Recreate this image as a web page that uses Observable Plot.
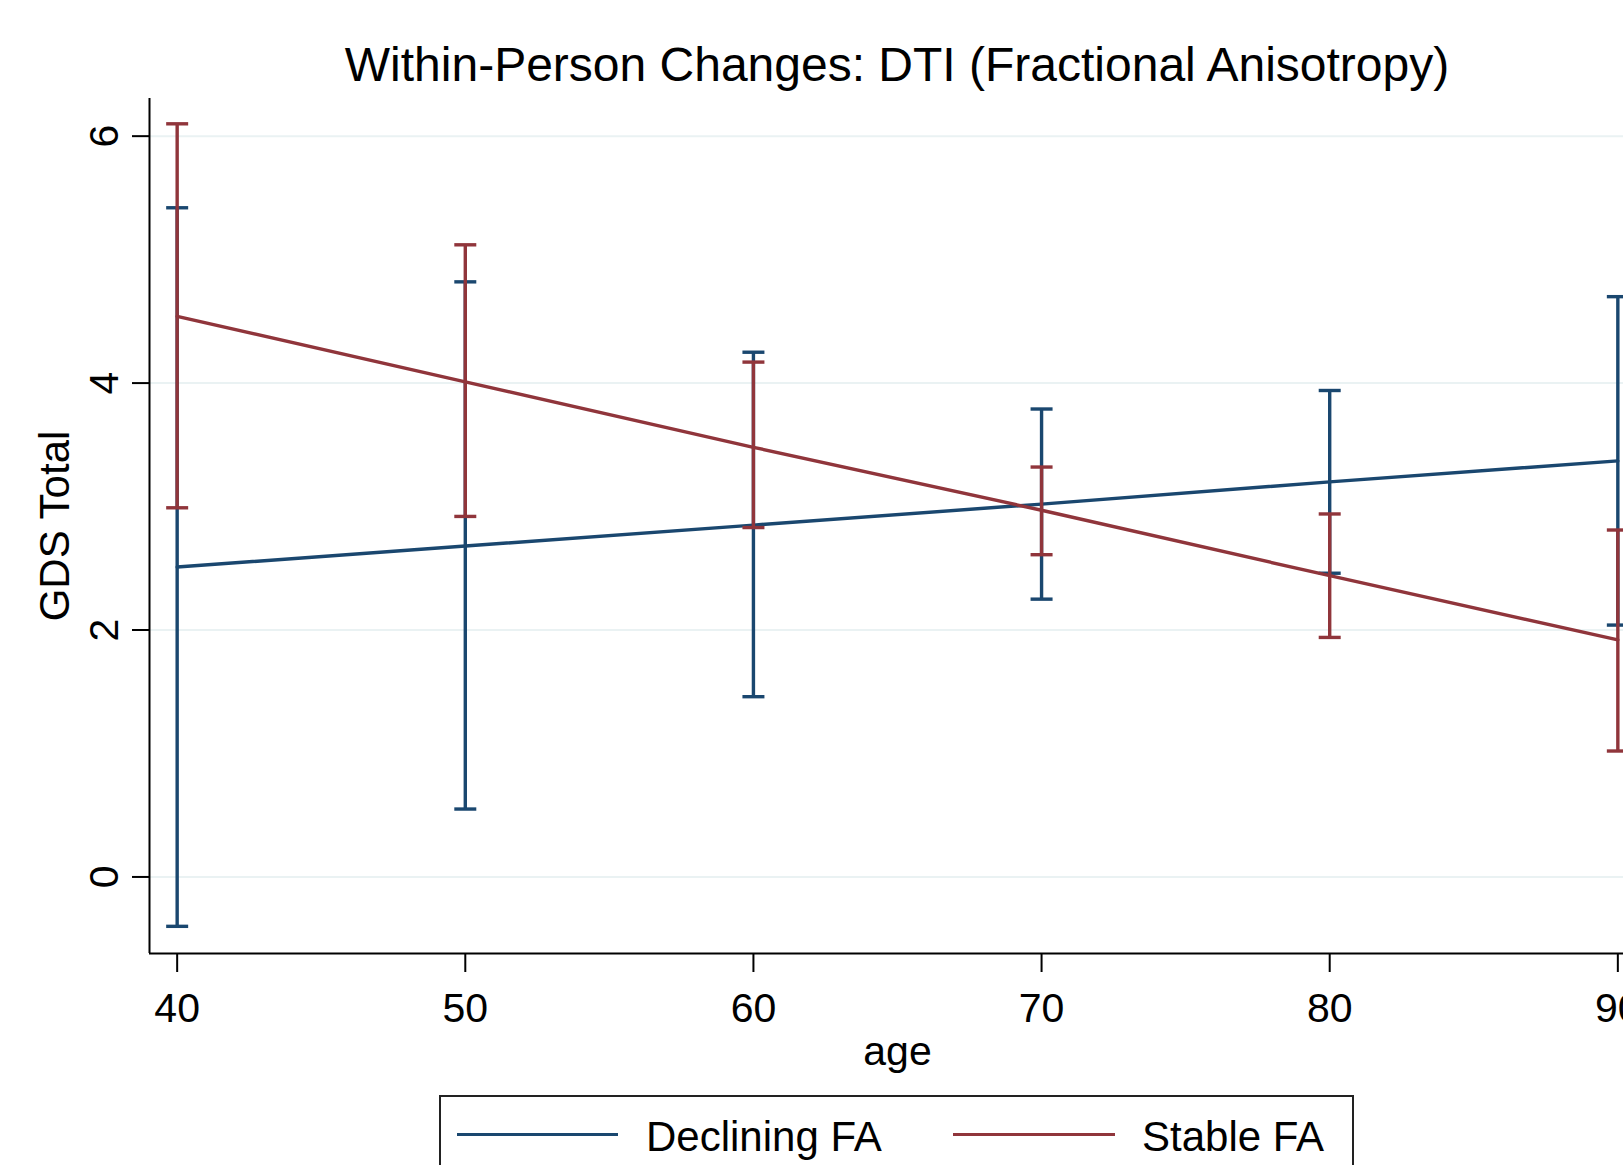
<!DOCTYPE html>
<html>
<head>
<meta charset="utf-8">
<script src="https://cdn.jsdelivr.net/npm/d3@7"></script>
<script src="https://cdn.jsdelivr.net/npm/@observablehq/plot@0.6"></script>
<style>
  html, body { margin: 0; padding: 0; background: #fff; }
  body { width: 1623px; height: 1165px; overflow: hidden; font-family: "Liberation Sans", Arial, sans-serif; color: #000; }
  #title { width: 1794px; height: 90px; box-sizing: border-box; padding-top: 41px; line-height: 48px; font-size: 48px; text-align: center; white-space: nowrap; }
  #chart { width: 1700px; height: 995px; }
  #chart svg { display: block; overflow: visible; max-width: none !important; }
  #legend { position: relative; margin-left: 439px; margin-top: 10px; width: 911px; height: 140px; border: 2px solid #222; }
  #legend .swatch { position: absolute; top: 35.5px; height: 3.4px; }
  #legend .label { position: absolute; top: 19px; font-size: 42px; line-height: 42px; white-space: nowrap; }
</style>
</head>
<body>
<div id="title">Within-Person Changes: DTI (Fractional Anisotropy)</div>
<div id="chart"></div>
<div id="legend"></div>
<script>
// Predicted GDS Total by age with 95% confidence intervals, two FA groups
const ages = [40, 50, 60, 70, 80, 90];

const seriesNames = ["Declining FA", "Stable FA"];
const seriesColors = ["#1a476f", "#90353b"];

const decliningFit = [2.51, 2.68, 2.85, 3.02, 3.20, 3.37];
const decliningLow = [-0.40, 0.55, 1.46, 2.25, 2.46, 2.04];
const decliningHigh = [5.42, 4.82, 4.25, 3.79, 3.94, 4.70];

const stableFit = [4.54, 4.01, 3.48, 2.97, 2.44, 1.92];
const stableLow = [2.99, 2.92, 2.83, 2.61, 1.94, 1.02];
const stableHigh = [6.10, 5.12, 4.17, 3.32, 2.94, 2.81];

const xTicks = [40, 50, 60, 70, 80, 90];
const yTicks = [0, 2, 4, 6];
const xDomain = [39.04, 90.96];
const yDomain = [-0.62, 6.305];

const rowsFor = (fit, lo, hi, name) =>
  ages.map((age, i) => ({age, fit: fit[i], lo: lo[i], hi: hi[i], group: name}));

const declining = rowsFor(decliningFit, decliningLow, decliningHigh, seriesNames[0]);
const stable = rowsFor(stableFit, stableLow, stableHigh, seriesNames[1]);

// Horizontal cap drawn as a dot symbol; half-width equals the dot radius
const capSymbol = {
  draw(context, size) {
    const w = Math.sqrt(size / Math.PI);
    context.moveTo(-w, 0);
    context.lineTo(w, 0);
  }
};

const lineWidth = 3.4;
const seriesMarks = (rows, color) => [
  Plot.line(rows, {x: "age", y: "fit", stroke: color, strokeWidth: lineWidth}),
  Plot.ruleX(rows, {x: "age", y1: "lo", y2: "hi", stroke: color, strokeWidth: lineWidth}),
  Plot.dot(rows, {x: "age", y: "lo", symbol: capSymbol, r: 11, stroke: color, strokeWidth: lineWidth, fill: "none"}),
  Plot.dot(rows, {x: "age", y: "hi", symbol: capSymbol, r: 11, stroke: color, strokeWidth: lineWidth, fill: "none"})
];

const chart = Plot.plot({
  width: 1700,
  height: 995,
  marginTop: 8,
  marginBottom: 132,
  marginLeft: 149,
  marginRight: 55,
  style: {fontFamily: "'Liberation Sans', Arial, sans-serif", fontSize: "41px", color: "#000", background: "transparent", maxWidth: "none"},
  x: {domain: xDomain},
  y: {domain: yDomain},
  marks: [
    Plot.gridY(yTicks, {stroke: "#eaf2f3", strokeOpacity: 1, strokeWidth: 2}),
    ...seriesMarks(declining, seriesColors[0]),
    ...seriesMarks(stable, seriesColors[1]),
    Plot.ruleX([xDomain[0]], {stroke: "#000", strokeWidth: 2}),
    Plot.ruleY([yDomain[0]], {stroke: "#000", strokeWidth: 2}),
    Plot.axisY(yTicks, {tickSize: 17, tickPadding: 15, tickRotate: -90, tickFormat: d => String(d), strokeWidth: 2, label: null, fontSize: 41}),
    Plot.axisX(xTicks, {tickSize: 19, tickPadding: 20, tickFormat: d => String(d), strokeWidth: 2, label: null, fontSize: 41}),
    Plot.text(["GDS Total"], {frameAnchor: "left", rotate: -90, dx: -94, fontSize: 42, lineAnchor: "middle", textAnchor: "middle"}),
    Plot.text(["age"], {frameAnchor: "bottom", dy: 111, fontSize: 41, lineAnchor: "bottom", textAnchor: "middle"})
  ]
});
document.getElementById("chart").appendChild(chart);

// Legend: line swatch plus series name, laid out in a bordered box
const legend = document.getElementById("legend");
const legendSlots = [{swatch: 16, width: 161, text: 205}, {swatch: 512, width: 162, text: 701}];
seriesNames.forEach((name, i) => {
  const sw = document.createElement("div");
  sw.className = "swatch";
  sw.style.left = legendSlots[i].swatch + "px";
  sw.style.width = legendSlots[i].width + "px";
  sw.style.background = seriesColors[i];
  legend.appendChild(sw);
  const lb = document.createElement("div");
  lb.className = "label";
  lb.style.left = legendSlots[i].text + "px";
  lb.textContent = name;
  legend.appendChild(lb);
});
</script>
</body>
</html>
